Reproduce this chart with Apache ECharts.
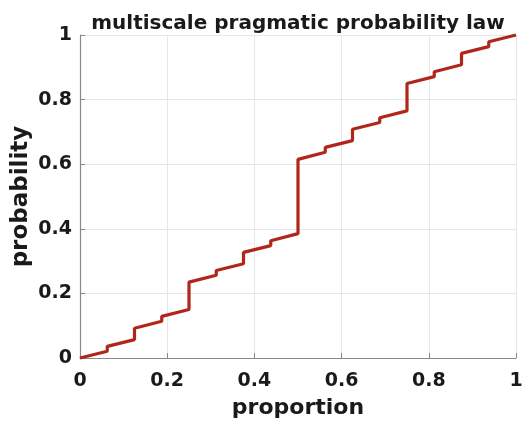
<!DOCTYPE html>
<html><head><meta charset="utf-8">
<script src="https://cdn.jsdelivr.net/npm/echarts@6/dist/echarts.min.js"></script>
<style>html,body{margin:0;padding:0;background:#fff}#c{width:525px;height:425px}</style>
</head><body><div id="c"></div>
<script>
// step points (proportion, probability)
var proportion = [0, 0.0625, 0.0625, 0.125, 0.125, 0.1875, 0.1875, 0.25, 0.25, 0.3125, 0.3125, 0.375, 0.375, 0.4375, 0.4375, 0.5, 0.5,
  0.5625, 0.5625, 0.625, 0.625, 0.6875, 0.6875, 0.75, 0.75, 0.8125, 0.8125, 0.875, 0.875, 0.9375, 0.9375, 1];
var probability = [0, 0.021, 0.036, 0.057, 0.092, 0.114, 0.129, 0.150, 0.235, 0.256, 0.271, 0.292, 0.327, 0.348, 0.363, 0.385, 0.615,
  0.637, 0.652, 0.673, 0.708, 0.729, 0.744, 0.765, 0.850, 0.871, 0.886, 0.908, 0.943, 0.964, 0.979, 1.0];
var xTicks = [0, 0.2, 0.4, 0.6, 0.8, 1];
var yTicks = [0, 0.2, 0.4, 0.6, 0.8, 1];

var data = proportion.map(function(x, i){ return [x, probability[i]]; });
var font = 'DejaVu Sans, sans-serif';
var fmt = function(v){ return String(Math.round(v*10)/10); };
var chart = echarts.init(document.getElementById('c'), null, {renderer:'canvas'});
chart.setOption({
  animation: false,
  backgroundColor: '#fff',
  title: {text: 'multiscale pragmatic probability law', left: 293, top: 9, textAlign: 'center',
    textStyle: {fontFamily: font, fontWeight: 'bold', fontSize: 20, color: '#1a1a1a'}},
  grid: {left: 80, right: 9, top: 35, bottom: 67, outerBoundsMode: 'none', containLabel: false},
  xAxis: {type: 'value', min: 0, max: 1, interval: 0.2,
    name: 'proportion', nameLocation: 'middle', nameGap: 39, nameMoveOverlap: false,
    nameTextStyle: {fontFamily: font, fontWeight: 'bold', fontSize: 22, color: '#1a1a1a'},
    axisLine: {show: true, lineStyle: {color: '#888', width: 1.2}},
    axisTick: {show: true, inside: true, length: 5, lineStyle: {color: '#888'}},
    axisLabel: {fontFamily: font, fontWeight: 'bold', fontSize: 19, color: '#1a1a1a', margin: 14, formatter: fmt},
    splitLine: {show: true, lineStyle: {color: '#e6e6e6', width: 1}}},
  yAxis: {type: 'value', min: 0, max: 1, interval: 0.2,
    name: 'probability', nameLocation: 'middle', nameGap: 47, nameRotate: 90, nameMoveOverlap: false,
    nameTextStyle: {fontFamily: font, fontWeight: 'bold', fontSize: 23, color: '#1a1a1a'},
    axisLine: {show: true, lineStyle: {color: '#888', width: 1.2}},
    axisTick: {show: true, inside: true, length: 5, lineStyle: {color: '#888'}},
    axisLabel: {fontFamily: font, fontWeight: 'bold', fontSize: 19, color: '#1a1a1a', margin: 8, formatter: fmt},
    splitLine: {show: true, lineStyle: {color: '#e6e6e6', width: 1}}},
  series: [{type: 'line', data: data, showSymbol: false, symbol: 'none',
    lineStyle: {color: '#b0261a', width: 3.2}, clip: false}]
});
</script></body></html>
